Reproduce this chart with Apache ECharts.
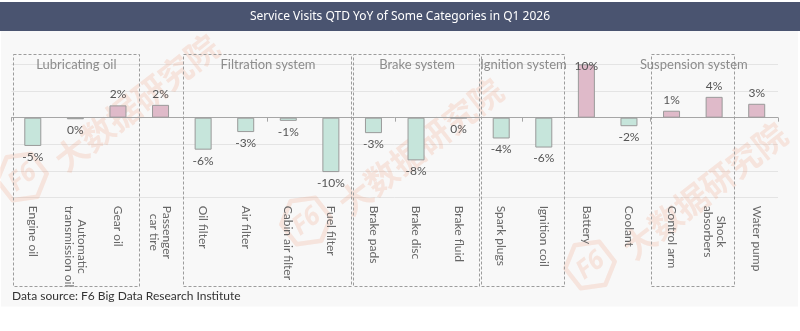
<!DOCTYPE html>
<html>
<head>
<meta charset="utf-8">
<script src="https://cdn.jsdelivr.net/npm/echarts@6/dist/echarts.min.js"></script>
<style>
  html, body { margin: 0; padding: 0; background: #ffffff; }
  #chart { width: 800px; height: 331px; }
</style>
</head>
<body>
<div id="chart"></div>
<script>
// ---- data ----
const chartTitle = 'Service Visits QTD YoY of Some Categories in Q1 2026';
const sourceNote = 'Data source: F6 Big Data Research Institute';

const categories = [
  'Engine oil', 'Automatic\ntransmission oil', 'Gear oil', 'Passenger\ncar tire',
  'Oil filter', 'Air filter', 'Cabin air filter', 'Fuel filter',
  'Brake pads', 'Brake disc', 'Brake fluid',
  'Spark plugs', 'Ignition coil',
  'Battery', 'Coolant',
  'Control arm', 'Shock\nabsorbers', 'Water pump'
];

// YoY change, %
const yoyValues = [
  -5.3, -0.3, 2.3, 2.4,
  -6.0, -2.7, -0.6, -10.2,
  -2.9, -8.0, -0.1,
  -3.9, -5.6,
  10.0, -1.6,
  1.3, 3.9, 2.6
];

// category groups (first / last category index)
const groupNames = ['Lubricating oil', 'Filtration system', 'Brake system', 'Ignition system', 'Suspension system'];
const groupFirst = [0, 4, 8, 11, 15];
const groupLast  = [2, 7, 10, 12, 16];

const yTicks = [-15, -10, -5, 0, 5, 10];

// ---- styling ----
const FONT = 'Lato, "Noto Sans", sans-serif';
const TITLE_FONT = '"Noto Sans", sans-serif';
const POS_COLOR = '#dfbac9';
const NEG_COLOR = '#c6e5db';
const WM_COLOR = 'rgba(238,125,80,0.16)';
const yMin = yTicks[0], yMax = yTicks[yTicks.length - 1];

const chart = echarts.init(document.getElementById('chart'), null, { renderer: 'canvas' });

const labelFormatter = v => v.split('\n').map(s => '{c|' + s + '}').join('\n');

chart.setOption({
  backgroundColor: '#ffffff',
  animation: false,
  grid: { left: 11.5, right: 22, top: 64.3, bottom: 133.3, outerBoundsMode: 'none', containLabel: false },
  xAxis: [
    {
      type: 'category',
      data: categories,
      position: 'bottom',
      axisLine: { show: false, onZero: false },
      axisTick: { show: false },
      splitLine: { show: false },
      axisLabel: {
        interval: 0,
        rotate: -90,
        margin: 8,
        formatter: labelFormatter,
        rich: { c: { align: 'center', color: '#666666', fontSize: 12, lineHeight: 13.5, fontFamily: FONT } }
      }
    },
    {
      type: 'category',
      data: categories,
      position: 'top',
      axisLine: { show: true, onZero: true, lineStyle: { color: '#a6a6a6', width: 1 } },
      axisTick: { show: true, inside: true, length: 4, lineStyle: { color: '#a6a6a6' } },
      axisLabel: { show: false },
      splitLine: { show: false }
    }
  ],
  yAxis: {
    type: 'value',
    min: yMin,
    max: yMax,
    interval: 5,
    axisLabel: { show: false },
    axisLine: { show: false },
    axisTick: { show: false },
    splitLine: { lineStyle: { color: '#e4e4e4', width: 1 } }
  },
  series: [{
    type: 'bar',
    xAxisIndex: 0,
    barWidth: 17,
    data: yoyValues.map(v => {
      const item = {
        value: v,
        itemStyle: { color: v >= 0 ? POS_COLOR : NEG_COLOR }
      };
      // a bar that reaches the top of the plot keeps its label tucked at the edge
      if (v >= yMax) item.label = { offset: [0, 13] };
      return item;
    }),
    itemStyle: { borderColor: '#9a9a9a', borderWidth: 1 },
    label: {
      show: true,
      position: 'outside',
      distance: 5,
      color: '#555555',
      fontSize: 12,
      fontFamily: FONT,
      formatter: p => Math.round(p.value) + '%'
    }
  }]
});

// ---- decorations: header bar, panel, group frames, source note, watermark ----
function buildGraphics() {
  const px = i => chart.convertToPixel({ xAxisIndex: 0 }, i);
  const band = px(1) - px(0);
  const els = [];

  els.push({ type: 'rect', z: -20, silent: true, shape: { x: 1, y: 31, width: 797, height: 275.5 }, style: { fill: '#f8f8f8' } });
  els.push({ type: 'rect', z: -20, silent: true, shape: { x: 0, y: 2, width: 800, height: 29 }, style: { fill: '#4a5470' } });
  els.push({
    type: 'text', z: 10, silent: true, x: 400, y: 16.5,
    style: { text: chartTitle, fill: '#ffffff', font: '12px ' + TITLE_FONT, textAlign: 'center', textVerticalAlign: 'middle' }
  });

  groupNames.forEach((name, g) => {
    const x0 = px(groupFirst[g]) - band / 2 + 1;
    const x1 = px(groupLast[g]) + band / 2 - 1;
    els.push({
      type: 'rect', z: 5, silent: true,
      shape: { x: Math.round(x0) + 0.5, y: 54.5, width: Math.round(x1 - x0), height: 232 },
      style: { fill: null, stroke: '#9c9c9c', lineWidth: 1, lineDash: [3, 2] }
    });
    els.push({
      type: 'text', z: 5, silent: true, x: (x0 + x1) / 2 + 1, y: 64.5,
      style: { text: name, fill: '#8c8c8c', font: '13px ' + FONT, textAlign: 'center', textVerticalAlign: 'middle' }
    });
  });

  els.push({
    type: 'text', z: 10, silent: true, x: 12, y: 296,
    style: { text: sourceNote, fill: '#333333', font: '12px ' + FONT, textAlign: 'left', textVerticalAlign: 'middle' }
  });

  // repeated brand watermark
  const marks = [[22, 177], [306, 221], [590, 265]];
  marks.forEach(([mx, my]) => {
    const hex = [];
    for (let k = 0; k < 6; k++) {
      const a = Math.PI / 6 + k * Math.PI / 3;
      hex.push([25 * Math.cos(a), 25 * Math.sin(a)]);
    }
    els.push({
      type: 'group', x: mx, y: my, rotation: 38 * Math.PI / 180, z: 50, silent: true,
      children: [
        { type: 'polygon', shape: { points: hex }, style: { fill: null, stroke: WM_COLOR, lineWidth: 4.5, lineJoin: 'round' } },
        { type: 'text', x: 0, y: 1, style: { text: 'F6', fill: WM_COLOR, font: 'italic bold 26px ' + TITLE_FONT, textAlign: 'center', textVerticalAlign: 'middle' } },
        { type: 'text', x: 37, y: 12, style: { text: '大数据研究院', fill: WM_COLOR, font: 'bold 33px "Noto Sans CJK SC", sans-serif', textAlign: 'left', textVerticalAlign: 'middle' } }
      ]
    });
  });
  return els;
}

chart.setOption({ graphic: { elements: buildGraphics() } });
</script>
</body>
</html>
